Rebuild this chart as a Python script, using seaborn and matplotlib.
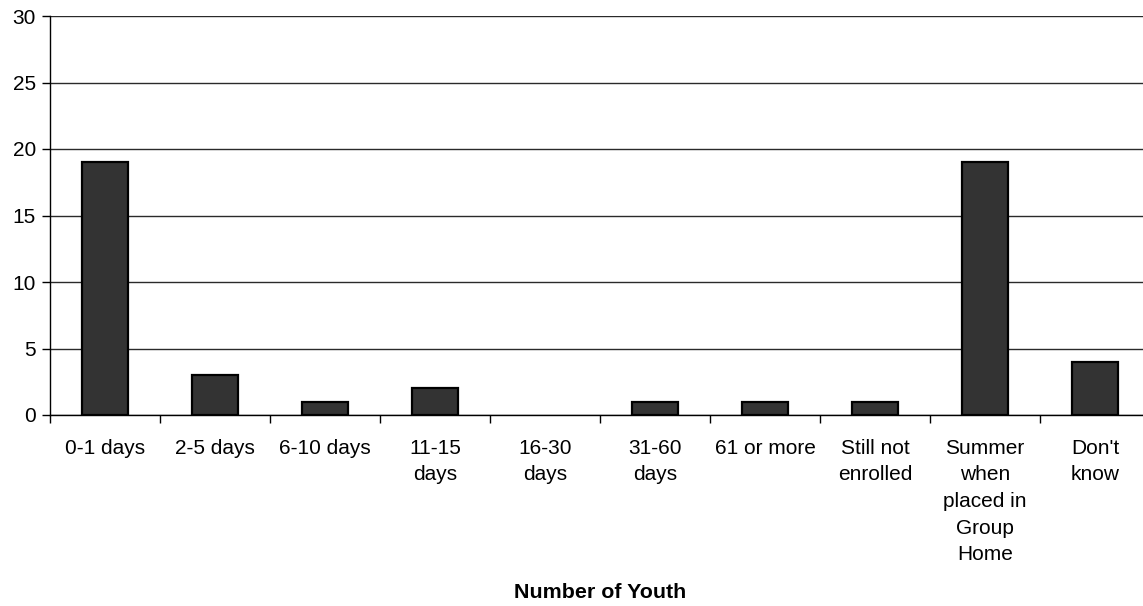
import matplotlib
matplotlib.use("Agg")
import matplotlib.pyplot as plt
import seaborn as sns
import pandas as pd
import numpy as np
from matplotlib.ticker import FixedLocator

categories = ["0-1 days", "2-5 days", "6-10 days", "11-15\ndays", "16-30\ndays",
              "31-60\ndays", "61 or more", "Still not\nenrolled",
              "Summer\nwhen\nplaced in\nGroup\nHome", "Don't\nknow"]
values = [19, 3, 1, 2, 0, 1, 1, 1, 19, 4]
yticks = [0, 5, 10, 15, 20, 25, 30]

sns.set_theme(style="white")
plt.rcParams['font.family'] = ['Liberation Sans', 'DejaVu Sans']

df = pd.DataFrame({"cat": categories, "val": values})

fig = plt.figure(figsize=(11.43, 6.06), dpi=100)
ax = fig.add_axes([50/1143, 1-415/606, 1100/1143, (415-16)/606])

sns.barplot(data=df, x="cat", y="val", color="#333333", edgecolor="black",
            linewidth=1.6, width=0.41, saturation=1, ax=ax, zorder=3)
for p in ax.patches:
    if p.get_height() == 0:
        p.set_visible(False)

ax.set_xlim(-0.5, len(categories) - 0.5)
ax.set_ylim(0, 30)
ax.set_yticks(yticks)
ax.yaxis.grid(True, color="#2a2a2a", linewidth=1.0, zorder=0)
ax.set_axisbelow(True)

for s in ["top", "right"]:
    ax.spines[s].set_visible(False)
ax.spines["left"].set_color("black")
ax.spines["bottom"].set_color("black")
ax.spines["left"].set_linewidth(1.0)
ax.spines["bottom"].set_linewidth(1.0)

ax.xaxis.set_minor_locator(FixedLocator(np.arange(-0.5, len(categories), 1.0)))
ax.tick_params(axis="x", which="major", length=0, pad=17, labelsize=15, colors="black")
ax.tick_params(axis="x", which="minor", length=6, width=1, color="black", direction="out", bottom=True)
ax.tick_params(axis="y", which="major", length=6, width=1, color="black", direction="out", left=True, labelsize=15, pad=4, labelcolor="black")
for lbl in ax.get_xticklabels():
    lbl.set_linespacing(1.51)
    lbl.set_verticalalignment("top")

ax.set_ylabel("")
ax.set_xlabel("Number of Youth", fontsize=15.4, fontweight="bold", color="black", va="center")
ax.xaxis.set_label_coords(0.5, -177/399)

fig.savefig("out.png", dpi=100)
